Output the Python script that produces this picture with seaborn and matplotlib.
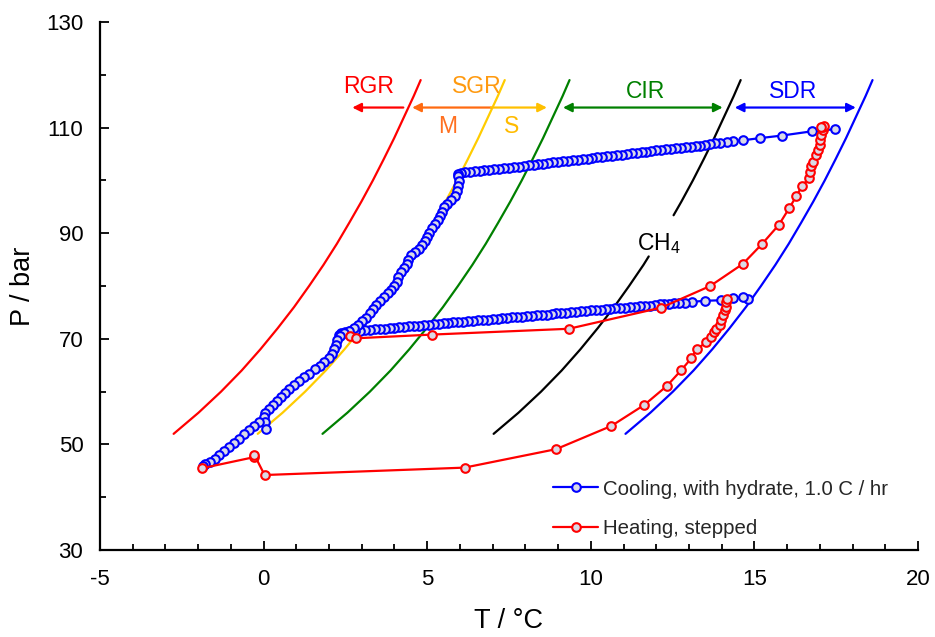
import matplotlib
matplotlib.use("Agg")
import matplotlib.pyplot as plt
import seaborn as sns
import pandas as pd
from matplotlib.lines import Line2D
from matplotlib.ticker import FixedLocator

sns.set_theme(style="white")
plt.rcParams["font.family"] = ["Liberation Sans", "DejaVu Sans"]
plt.rcParams["mathtext.default"] = "regular"
plt.rcParams["axes.unicode_minus"] = False

# ---------------- phase-boundary curves ----------------
curve_P = [52, 56, 60, 64, 68, 72, 76, 80, 84, 88, 92, 96, 100, 104, 108, 112, 116, 119]
RGR_T = [-2.75, -1.99, -1.30, -0.67, -0.10, 0.43, 0.93, 1.39, 1.83, 2.24, 2.62, 2.99,
         3.34, 3.67, 3.99, 4.29, 4.59, 4.80]
S_T = [-0.18, 0.58, 1.27, 1.90, 2.47, 3.00, 3.50, 3.96, 4.40, 4.81, 5.19, 5.56,
       5.91, 6.24, 6.56, 6.86, 7.16, 7.37]
CIR_T = [1.80, 2.56, 3.25, 3.88, 4.45, 4.98, 5.48, 5.94, 6.38, 6.79, 7.17, 7.54,
         7.89, 8.22, 8.54, 8.84, 9.14, 9.35]
SDR_T = [11.06, 11.82, 12.51, 13.14, 13.71, 14.24, 14.74, 15.20, 15.64, 16.05, 16.43,
         16.80, 17.15, 17.48, 17.80, 18.10, 18.40, 18.61]
CH4_low_T = [7.03, 7.79, 8.48, 9.11, 9.68, 10.21, 10.71, 11.17, 11.61, 11.77]
CH4_low_P = [52, 56, 60, 64, 68, 72, 76, 80, 84, 85.6]
CH4_high_T = [12.53, 12.77, 13.12, 13.45, 13.77, 14.07, 14.37, 14.58]
CH4_high_P = [93.4, 96, 100, 104, 108, 112, 116, 119]

# ---------------- cooling run (blue) ----------------
cool_upper_T = [17.47, 16.76, 15.85, 15.16, 14.65, 14.36, 14.16, 13.94,
                13.80, 13.65, 13.50, 13.35, 13.20, 13.05, 12.90, 12.75, 12.60, 12.45,
                12.30, 12.15, 12.00, 11.85, 11.70, 11.55, 11.40, 11.25, 11.10, 10.95,
                10.80, 10.65, 10.50, 10.35, 10.20, 10.05, 9.90, 9.75, 9.60, 9.45,
                9.30, 9.15, 9.00, 8.85, 8.70, 8.55, 8.40, 8.25, 8.10, 7.95, 7.80,
                7.65, 7.50, 7.35, 7.20, 7.05, 6.90, 6.75, 6.60, 6.45, 6.30, 6.15,
                6.02, 5.94,
                5.94, 5.96, 5.94, 5.90, 5.84, 5.72, 5.60, 5.50, 5.44, 5.38, 5.32,
                5.25, 5.15, 5.06, 4.98, 4.92, 4.84, 4.74, 4.62, 4.50, 4.42, 4.38,
                4.30, 4.20, 4.12, 4.08, 4.00, 3.90, 3.80, 3.68, 3.56, 3.44, 3.34,
                3.24, 3.12, 3.00, 2.88, 2.75, 2.60, 2.45, 2.32, 2.24, 2.20, 2.16,
                2.10, 2.00, 1.86, 1.72, 1.56, 1.40, 1.24, 1.08, 0.92, 0.78, 0.64,
                0.52, 0.40, 0.28, 0.15, 0.05, 0.02, 0.04, 0.06, -0.14, -0.30,
                -0.45, -0.60, -0.75, -0.90, -1.05, -1.20, -1.35, -1.50, -1.65,
                -1.78, -1.85]
cool_upper_P = [109.7, 109.3, 108.5, 108.0, 107.6, 107.4, 107.3, 107.1,
                107.0, 106.9, 106.7, 106.6, 106.5, 106.4, 106.3, 106.2, 106.1, 106.0,
                105.9, 105.8, 105.7, 105.6, 105.4, 105.3, 105.2, 105.1, 105.0, 104.9,
                104.8, 104.7, 104.6, 104.5, 104.4, 104.3, 104.1, 104.0, 103.9, 103.8,
                103.7, 103.6, 103.5, 103.4, 103.3, 103.2, 103.1, 103.0, 102.9, 102.7, 102.6,
                102.5, 102.4, 102.3, 102.2, 102.1, 102.0, 101.9, 101.8, 101.7, 101.6, 101.5,
                101.4, 101.3,
                100.8, 99.9, 99.0, 98.0, 97.1, 96.3, 95.6, 94.9, 94.1, 93.3, 92.5,
                91.7, 90.9, 90.1, 89.3, 88.5, 87.7, 87.0, 86.4, 85.8, 85.0, 84.2,
                83.4, 82.6, 81.7, 80.8, 80.0, 79.3, 78.6, 77.9, 77.2, 76.4, 75.6,
                74.8, 74.0, 73.3, 72.6, 72.0, 71.5, 71.1, 70.6, 69.8, 68.9, 68.0,
                67.2, 66.4, 65.6, 64.9, 64.2, 63.4, 62.7, 62.0, 61.2, 60.5, 59.8,
                59.0, 58.2, 57.4, 56.7, 56.0, 55.2, 54.3, 53.0, 54.2, 53.4,
                52.7, 51.9, 51.1, 50.3, 49.5, 48.7, 48.0, 47.3, 46.7,
                46.2, 45.9]
cool_lower_T = [14.80, 14.65, 14.34, 13.99, 13.48, 13.10, 12.87, 12.70,
                12.55, 12.40, 12.25, 12.10, 11.95, 11.80, 11.65, 11.50, 11.35, 11.20,
                11.05, 10.90, 10.75, 10.60, 10.45, 10.30, 10.15, 10.00, 9.85, 9.70,
                9.55, 9.40, 9.25, 9.10, 8.95, 8.80, 8.65, 8.50, 8.35, 8.20, 8.05,
                7.90, 7.75, 7.60, 7.45, 7.30, 7.15, 7.00, 6.85, 6.70, 6.55, 6.40,
                6.25, 6.10, 5.95, 5.80, 5.65, 5.50, 5.35, 5.20, 5.05, 4.90, 4.75,
                4.60, 4.45, 4.30, 4.15, 4.00, 3.85, 3.70, 3.55, 3.40, 3.25, 3.10,
                2.95, 2.80, 2.65, 2.50, 2.38, 2.30]
cool_lower_P = [77.6, 77.9, 77.7, 77.3, 77.2, 77.0, 76.8, 76.7,
                76.7, 76.6, 76.6, 76.5, 76.4, 76.3, 76.2, 76.2, 76.1, 76.0,
                75.9, 75.8, 75.8, 75.7, 75.6, 75.5, 75.4, 75.4, 75.3, 75.2,
                75.1, 75.0, 74.9, 74.9, 74.8, 74.7, 74.6, 74.5, 74.5, 74.4, 74.3,
                74.2, 74.1, 74.1, 74.0, 73.9, 73.8, 73.7, 73.6, 73.6, 73.5, 73.4,
                73.3, 73.2, 73.2, 73.1, 73.0, 72.9, 72.8, 72.8, 72.7, 72.6, 72.5,
                72.4, 72.4, 72.3, 72.2, 72.1, 72.0, 71.9, 71.9, 71.8, 71.7, 71.6,
                71.5, 71.5, 71.4, 71.3, 71.1, 70.8]

# ---------------- heating run (red) ----------------
heat_a_T = [-1.87, -0.28, -0.28, 0.03, 6.14, 8.94, 10.63, 11.64, 12.33, 12.77,
            13.07, 13.24, 13.53, 13.66, 13.75, 13.83, 13.94, 13.99, 14.04, 14.09,
            14.12, 14.14, 14.16]
heat_a_P = [45.5, 47.6, 48.0, 44.2, 45.6, 49.1, 53.5, 57.5, 61.1, 64.1,
            66.3, 68.1, 69.3, 70.3, 71.2, 71.8, 72.6, 73.6, 74.5, 75.5,
            76.1, 76.9, 77.6]
heat_b_T = [2.63, 2.83, 5.15, 9.33, 12.15, 13.65, 14.65, 15.24, 15.75, 16.06,
            16.28, 16.46, 16.67, 16.69, 16.74, 16.79, 16.89, 16.94, 16.99, 17.01,
            17.04, 17.09, 17.09, 17.14, 17.04]
heat_b_P = [70.6, 70.1, 70.8, 71.9, 75.9, 80.0, 84.2, 88.0, 91.6, 94.7,
            97.0, 99.0, 100.4, 101.6, 102.7, 103.5, 104.8, 105.8, 106.7, 107.7,
            108.6, 109.5, 110.2, 110.3, 110.2]

legend_labels = ["Cooling, with hydrate, 1.0 C / hr", "Heating, stepped"]
x_major = [-5, 0, 5, 10, 15, 20]
y_major = [30, 50, 70, 90, 110, 130]
y_minor = [40, 60, 80, 100, 120]

# ---------------- figure ----------------
fig = plt.figure(figsize=(9.35, 6.37), dpi=100)
ax = fig.add_axes([100 / 935, 1 - 550 / 637, 818 / 935, 528 / 637])

def curve(xs, ys, color):
    sns.lineplot(x=xs, y=ys, sort=False, estimator=None, color=color,
                 lw=1.6, ax=ax, legend=False, zorder=2)

curve(RGR_T, curve_P, "#FF0000")
curve(S_T, curve_P, "#FFCC00")
curve(CIR_T, curve_P, "#008000")
curve(SDR_T, curve_P, "#0000FF")
curve(CH4_low_T, CH4_low_P, "black")
curve(CH4_high_T, CH4_high_P, "black")

fill = "#DADAE6"
cool = pd.DataFrame({
    "T": cool_upper_T + cool_lower_T,
    "P": cool_upper_P + cool_lower_P,
    "run": ["u"] * len(cool_upper_T) + ["l"] * len(cool_lower_T),
})
heat = pd.DataFrame({
    "T": heat_a_T + heat_b_T,
    "P": heat_a_P + heat_b_P,
    "run": ["a"] * len(heat_a_T) + ["b"] * len(heat_b_T),
})
ms = 6.2
mk = dict(marker="o", markersize=ms, markerfacecolor=fill, markeredgewidth=1.5, lw=1.6)
sns.lineplot(data=cool, x="T", y="P", units="run", estimator=None, sort=False,
             color="#0000FF", markeredgecolor="#0000FF", ax=ax, legend=False,
             zorder=3, **mk)
sns.lineplot(data=heat, x="T", y="P", units="run", estimator=None, sort=False,
             color="#FF0000", markeredgecolor="#FF0000", ax=ax, legend=False,
             zorder=4, **mk)

# ---------------- region arrows and labels ----------------
ya = 113.8
def arrow(x0, x1, color, style):
    ax.annotate("", xy=(x1, ya), xytext=(x0, ya),
                arrowprops=dict(arrowstyle=style, color=color, lw=1.6,
                                shrinkA=0, shrinkB=0, mutation_scale=13),
                zorder=5)

arrow(4.27, 2.71, "#FF0000", "-|>")
arrow(6.95, 4.54, "#FF6A10", "-|>")
arrow(6.95, 8.66, "#FFC000", "-|>")
arrow(9.15, 14.03, "#008000", "<|-|>")
arrow(14.40, 18.10, "#0000FF", "<|-|>")

fs_lab = 16.5
ax.text(3.22, 117.8, "RGR", color="#FF0000", fontsize=fs_lab, ha="center", va="center")
ax.text(6.52, 117.8, "SGR", color="#FF9A10", fontsize=fs_lab, ha="center", va="center")
ax.text(5.61, 110.2, "M", color="#FF7020", fontsize=fs_lab, ha="center", va="center")
ax.text(7.59, 110.2, "S", color="#FFBB00", fontsize=fs_lab, ha="center", va="center")
ax.text(11.67, 116.8, "CIR", color="#008000", fontsize=fs_lab, ha="center", va="center")
ax.text(16.17, 116.8, "SDR", color="#0000FF", fontsize=fs_lab, ha="center", va="center")
ax.text(11.40, 86.8, "CH$_4$", color="black", fontsize=fs_lab, ha="left", va="baseline")

# ---------------- axes styling ----------------
ax.set_xlim(-5, 20)
ax.set_ylim(30, 130)
ax.set_xticks(x_major)
ax.set_xticklabels([str(v) for v in x_major])
ax.set_yticks(y_major)
ax.set_yticklabels([str(v) for v in y_major])
ax.xaxis.set_minor_locator(FixedLocator(list(range(-4, 20))))
ax.yaxis.set_minor_locator(FixedLocator(y_minor))
ax.tick_params(which="both", direction="in", color="black", width=1.3,
               bottom=True, left=True, top=False, right=False,
               labelsize=16, labelcolor="black")
ax.tick_params(which="major", length=6.5)
ax.tick_params(which="minor", length=4)
ax.tick_params(axis="x", pad=14)
ax.tick_params(axis="y", pad=12)
for s in ["top", "right"]:
    ax.spines[s].set_visible(False)
for s in ["left", "bottom"]:
    ax.spines[s].set_color("black")
    ax.spines[s].set_linewidth(1.6)
ax.set_facecolor("white")
ax.set_xlabel("T / °C", fontsize=19.5, labelpad=13, color="black")
ax.set_ylabel("P / bar", fontsize=19.5, labelpad=7, color="black")

handles = [
    Line2D([0], [0], color="#0000FF", marker="o", markersize=ms, markerfacecolor=fill,
           markeredgecolor="#0000FF", markeredgewidth=1.5, lw=1.6),
    Line2D([0], [0], color="#FF0000", marker="o", markersize=ms, markerfacecolor=fill,
           markeredgecolor="#FF0000", markeredgewidth=1.5, lw=1.6),
]
ax.legend(handles, legend_labels, loc="center left", bbox_to_anchor=(0.554, 0.078),
          frameon=False, fontsize=14.7, handlelength=2.2, handletextpad=0.25,
          labelspacing=1.0, borderpad=0, borderaxespad=0)

fig.savefig("out.png", dpi=100, facecolor="white")
